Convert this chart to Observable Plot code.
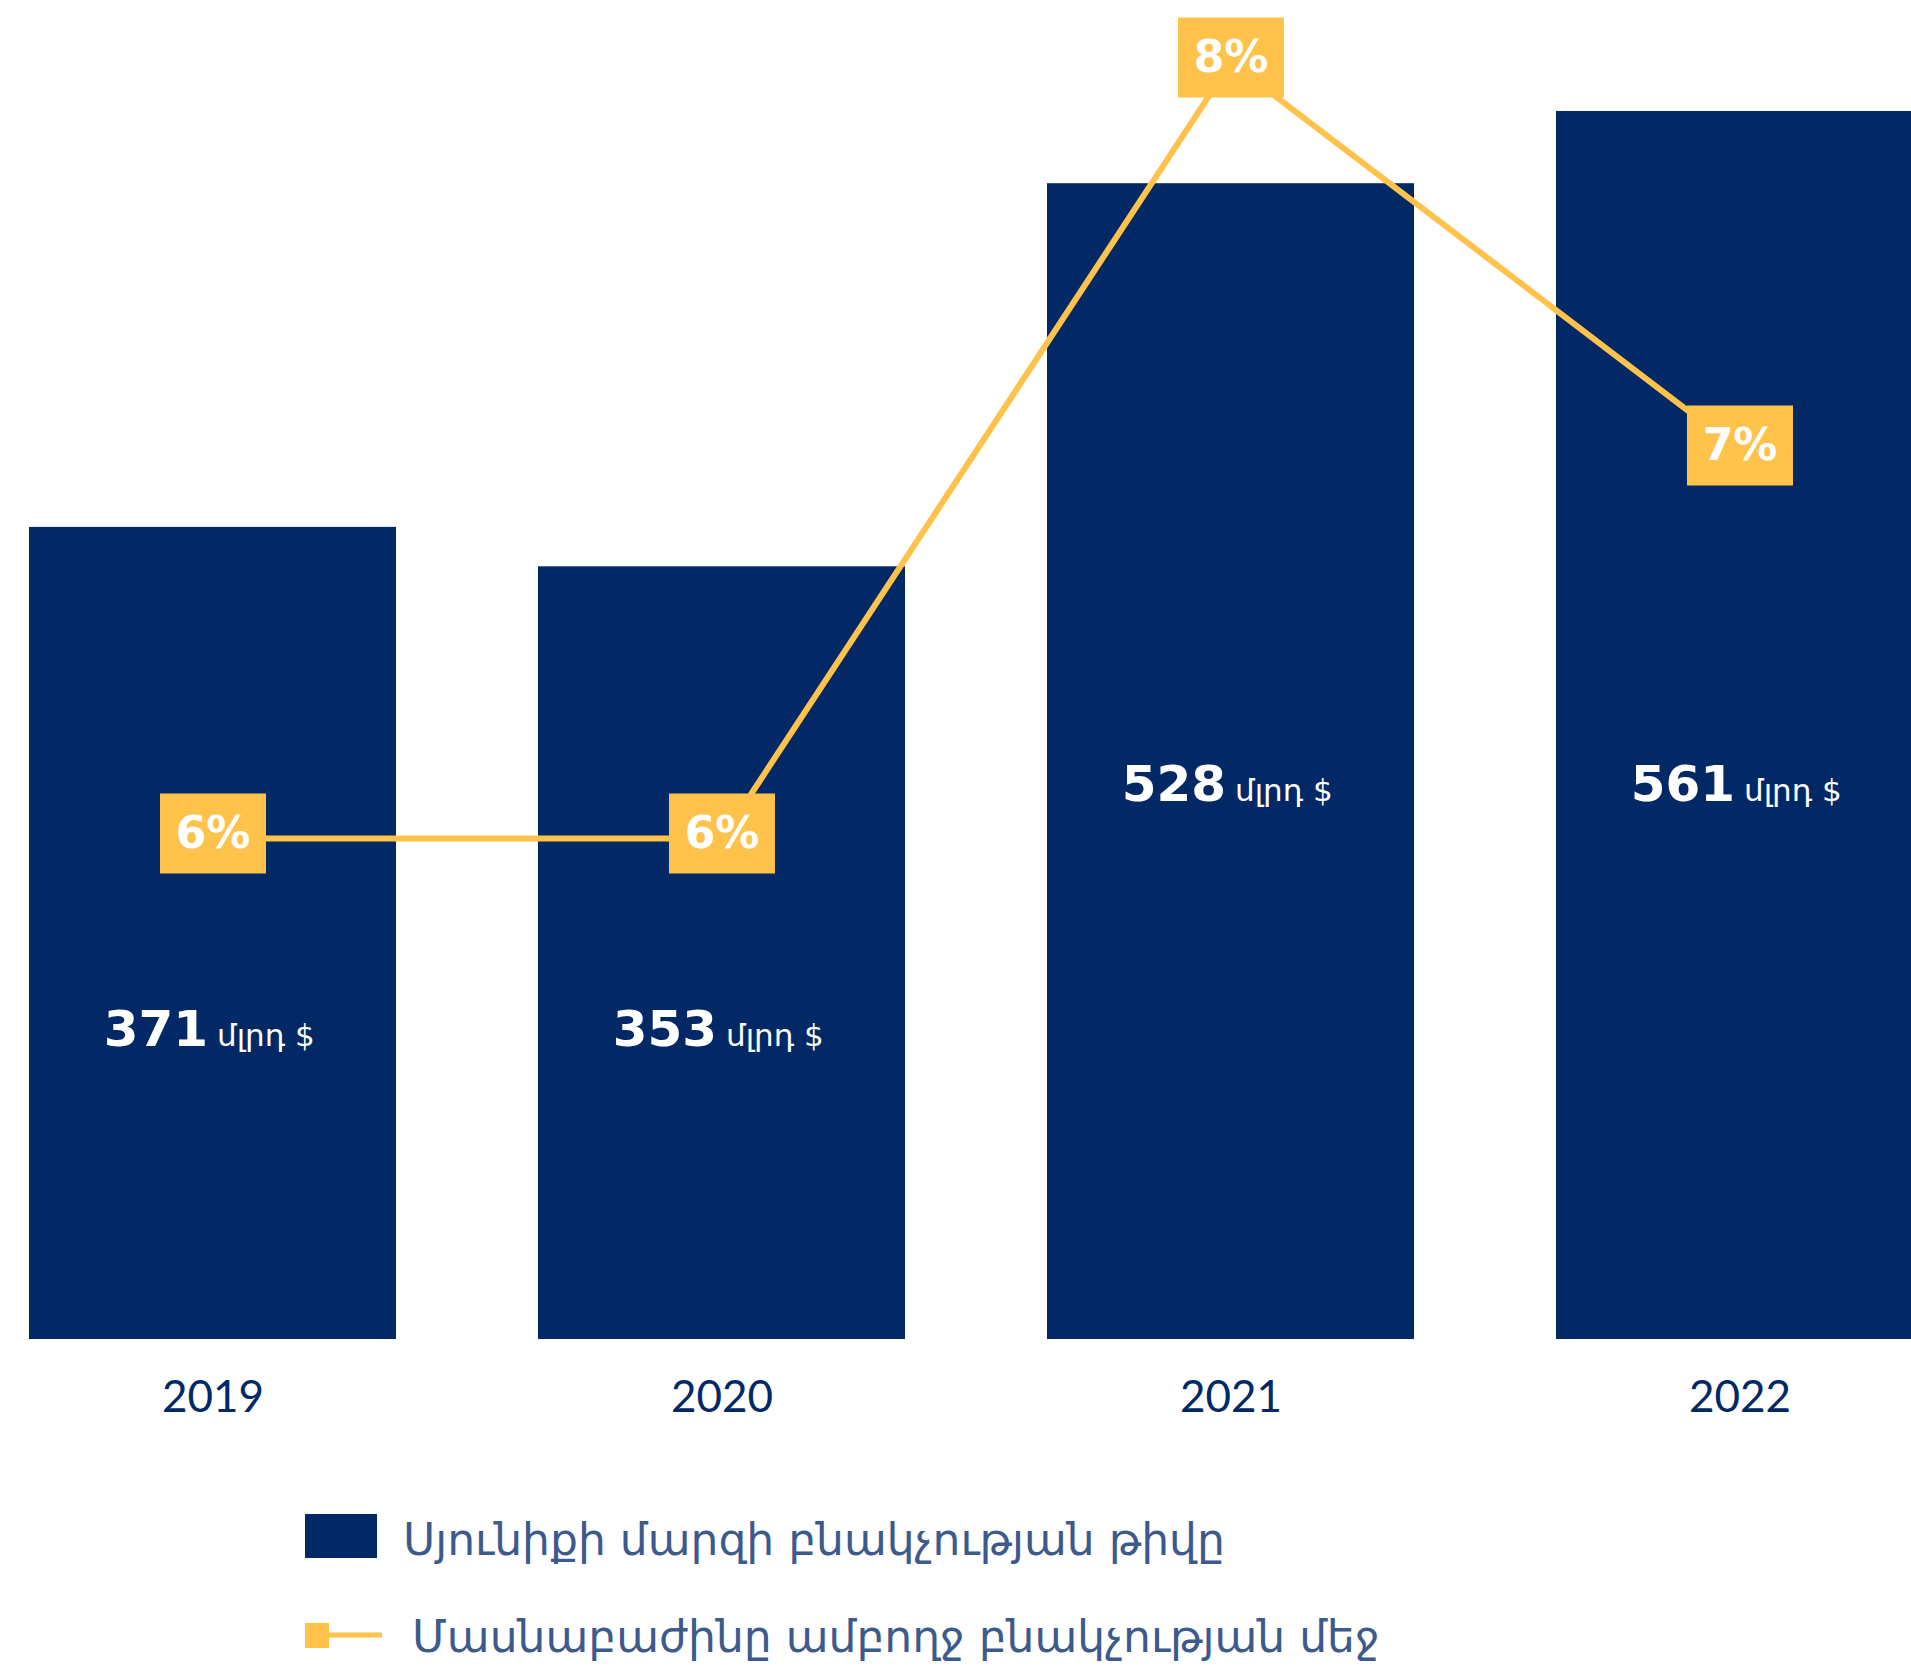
<!DOCTYPE html>
<html><head><meta charset="utf-8">
<script src="https://cdn.jsdelivr.net/npm/d3@7"></script>
<script src="https://cdn.jsdelivr.net/npm/@observablehq/plot@0.6"></script>
<style>
html,body{margin:0;padding:0;background:#fff;}
#chart{position:relative;width:1911px;height:1667px;overflow:hidden;}
#chart svg{display:block;}
</style></head><body><div id="chart"></div>
<script>
const years = ["2019", "2020", "2021", "2022"];
const totals = [371, 353, 528, 561];
const shares = [6, 6, 8, 7];
const unitLabel = "մլրդ $";
const legendLabels = ["Սյունիքի մարզի բնակչության թիվը", "Մասնաբաժինը ամբողջ բնակչության մեջ"];

const navy = "#022966", gold = "#FFC24B", legendInk = "#3D5A8C";
const rows = years.map((year, i) => ({year, value: totals[i], share: shares[i]}));
// secondary (percentage) axis mapped into the bar scale's units
const shareToY = d3.scaleLinear([6, 8], [228.9, 583.4]);
const labelBase = d => d.value < 450 ? 134 : 246;
const box = {draw(ctx) { ctx.rect(-53, -45, 106, 80); }};

const plot = Plot.plot({
  width: 1911, height: 1470,
  marginTop: 0, marginBottom: 131, marginLeft: 0, marginRight: 0,
  x: {domain: years, range: [29, 1923], paddingInner: 0.279, paddingOuter: 0, align: 0, label: null},
  y: {domain: [0, 600], range: [1339, 1339 - 600 * 2.189], axis: null},
  style: {background: "transparent", overflow: "visible", fontFamily: "Lato", fontSize: "44px", color: navy},
  marks: [
    Plot.barY(rows, {x: "year", y: "value", fill: navy}),
    Plot.line(rows, {x: "year", y: d => shareToY(d.share), stroke: gold, strokeWidth: 6}),
    Plot.dot(rows, {x: "year", y: d => shareToY(d.share), symbol: box, r: 10, fill: gold, stroke: null}),
    Plot.text(rows, {x: "year", y: d => shareToY(d.share), dy: -5, text: d => d.share + "%", fill: "white", fontSize: 44, fontWeight: "bold", fontFamily: "DejaVu Sans"}),
    Plot.text(rows, {x: "year", y: labelBase, text: d => String(d.value), textAnchor: "end", dx: -5, lineAnchor: "bottom", fill: "white", fontSize: 50, fontWeight: "bold", fontFamily: "DejaVu Sans"}),
    Plot.text(rows, {x: "year", y: labelBase, text: () => unitLabel, textAnchor: "start", dx: 4, lineAnchor: "bottom", fill: "white", fontSize: 31, fontFamily: "DejaVu Sans"}),
    Plot.axisX({tickSize: 0, tickPadding: 41, fontSize: 44, fill: navy, fontFamily: "Lato", label: null})
  ]
});
document.getElementById("chart").appendChild(plot);

// legend below the chart
const leg = d3.select("#chart").append("svg").attr("width", 1911).attr("height", 197);
leg.append("rect").attr("x", 305).attr("y", 44).attr("width", 72).attr("height", 44).attr("fill", navy);
leg.append("text").attr("x", 403).attr("y", 85).text(legendLabels[0])
  .attr("fill", legendInk).attr("font-family", "DejaVu Sans").attr("font-size", 44);
leg.append("line").attr("x1", 320).attr("x2", 382).attr("y1", 165).attr("y2", 165).attr("stroke", gold).attr("stroke-width", 5);
leg.append("rect").attr("x", 305).attr("y", 153).attr("width", 24).attr("height", 25).attr("fill", gold);
leg.append("text").attr("x", 412).attr("y", 182).text(legendLabels[1])
  .attr("fill", legendInk).attr("font-family", "DejaVu Sans").attr("font-size", 44);
</script></body></html>
